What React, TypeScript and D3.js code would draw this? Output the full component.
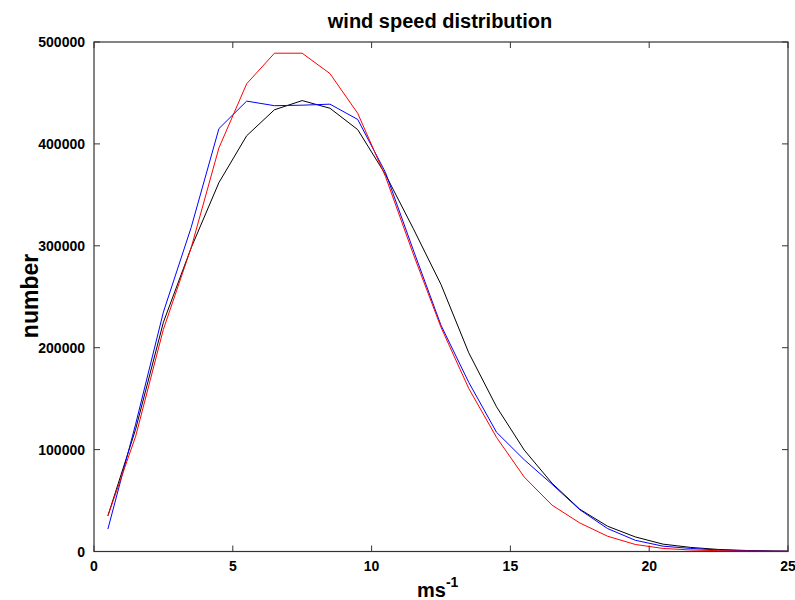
import React from "react";
import * as d3 from "d3";

const speeds = [0.5,1.5,2.5,3.5,4.5,5.5,6.5,7.5,8.5,9.5,10.5,11.5,12.5,13.5,14.5,15.5,16.5,17.5,18.5,19.5,20.5,21.5,22.5,23.5,24.5,25.5];
const blackSeries = [35000,120000,225000,298000,362000,408000,433500,442500,435000,414000,370000,317000,262000,195000,142000,99500,67000,41500,24800,14300,7200,4000,2000,1000,500,250];
const blueSeries = [22000,125000,235000,318000,415000,442000,437500,438000,439000,424000,372000,296000,222000,166000,117000,90000,66000,41000,22500,11000,5200,3000,1500,700,300,150];
const redSeries = [35000,113000,218000,298000,396000,459000,489000,489000,469000,430000,368000,292000,220000,160000,112000,73000,45500,28000,15000,6900,3000,1500,800,400,200,100];
const xTicks = [0,5,10,15,20,25];
const yTicks = [0,100000,200000,300000,400000,500000];

const series = [
  { name: "black", color: "#000000", values: blackSeries },
  { name: "blue", color: "#0000ff", values: blueSeries },
  { name: "red", color: "#ff0000", values: redSeries },
];

export default function App() {
  const W = 795, H = 600;
  const left = 94, right = 788, top = 42, bottom = 551.5;
  const x = d3.scaleLinear().domain([0, 25]).range([left, right]);
  const y = d3.scaleLinear().domain([0, 500000]).range([bottom, top]);
  const line = d3.line<number>().x((_, i) => x(speeds[i])).y(d => y(d));
  const tl = 6;
  const font = "Arial, 'Liberation Sans', Helvetica, sans-serif";
  const axisColor = "#333";
  return (
    <svg width={W} height={H} style={{ position: "absolute", left: 0, top: 0, background: "#fff" }} fontFamily={font}>
      <defs>
        <clipPath id="plotclip">
          <rect x={left} y={top} width={right - left} height={bottom - top} />
        </clipPath>
      </defs>
      <rect x={0} y={0} width={W} height={H} fill="#fff" />
      <g clipPath="url(#plotclip)">
        {series.map(s => (
          <path key={s.name} d={line(s.values) || ""} fill="none" stroke={s.color} strokeWidth={1} />
        ))}
      </g>
      <rect x={left} y={top} width={right - left} height={bottom - top} fill="none" stroke={axisColor} strokeWidth={1.2} />
      {xTicks.map(t => (
        <g key={"x" + t}>
          <line x1={x(t)} x2={x(t)} y1={bottom} y2={bottom - tl} stroke={axisColor} />
          <line x1={x(t)} x2={x(t)} y1={top} y2={top + tl} stroke={axisColor} />
          <text x={x(t)} y={571} textAnchor="middle" fontSize={14} fontWeight="bold">{t}</text>
        </g>
      ))}
      {yTicks.map(t => (
        <g key={"y" + t}>
          <line x1={left} x2={left + tl} y1={y(t)} y2={y(t)} stroke={axisColor} />
          <line x1={right} x2={right - tl} y1={y(t)} y2={y(t)} stroke={axisColor} />
          <text x={85} y={y(t) + 5} textAnchor="end" fontSize={14} fontWeight="bold">{t}</text>
        </g>
      ))}
      <text x={440} y={28} textAnchor="middle" fontSize={20} fontWeight="bold">wind speed distribution</text>
      <text x={417} y={597} fontSize={20} fontWeight="bold">ms<tspan dy={-10} fontSize={14}>-1</tspan></text>
      <text transform={`translate(38,${296}) rotate(-90)`} textAnchor="middle" fontSize={23} fontWeight="bold">number</text>
    </svg>
  );
}
